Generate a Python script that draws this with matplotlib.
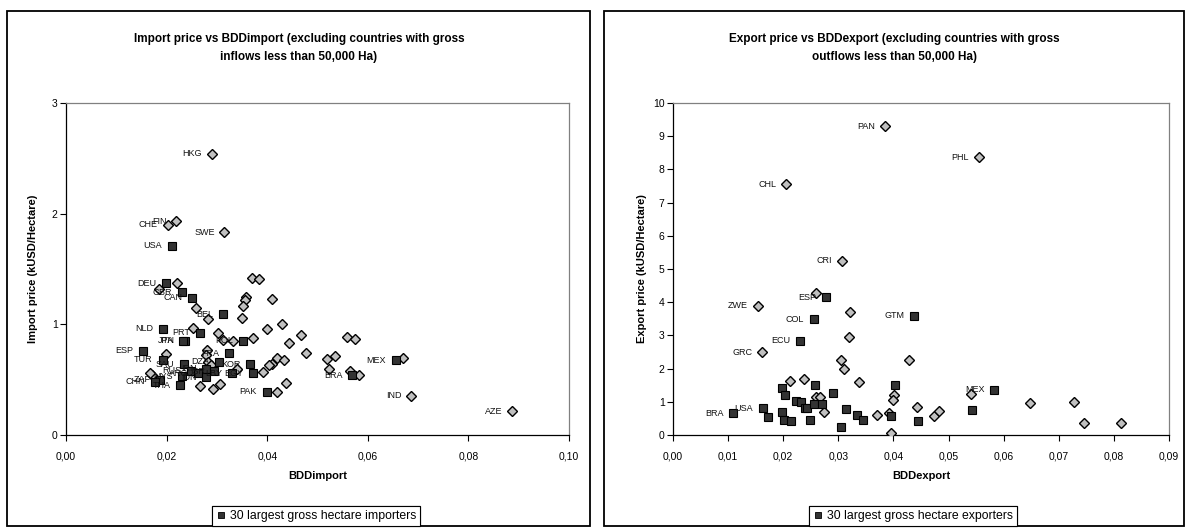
import matplotlib
matplotlib.use('Agg')
import matplotlib.pyplot as plt
from matplotlib.patches import Rectangle
from matplotlib.ticker import FuncFormatter, MultipleLocator
from matplotlib.lines import Line2D

plt.rcParams['font.family'] = ['Liberation Sans', 'DejaVu Sans']

# ---------------- DATA: import chart ----------------
imp_all_x = [0.0290, 0.0219, 0.0202, 0.0315, 0.0221, 0.0185, 0.0369, 0.0384, 0.0358, 0.0356,
             0.0351, 0.0409, 0.0259, 0.0283, 0.0350, 0.0252, 0.0400, 0.0430, 0.0303, 0.0467,
             0.0371, 0.0313, 0.0332, 0.0444, 0.0478, 0.0518, 0.0534, 0.0522, 0.0559, 0.0575,
             0.0565, 0.0583, 0.0669, 0.0686, 0.0887, 0.0198, 0.0280, 0.0278, 0.0283, 0.0288,
             0.0419, 0.0409, 0.0404, 0.0433, 0.0392, 0.0340, 0.0438, 0.0419, 0.0266, 0.0292,
             0.0306, 0.0171, 0.0167]
imp_all_y = [2.54, 1.93, 1.90, 1.83, 1.37, 1.32, 1.42, 1.41, 1.25, 1.22,
             1.17, 1.23, 1.15, 1.05, 1.06, 0.97, 0.96, 1.00, 0.92, 0.90,
             0.88, 0.855, 0.846, 0.83, 0.74, 0.69, 0.71, 0.60, 0.89, 0.87,
             0.58, 0.54, 0.70, 0.355, 0.213, 0.735, 0.77, 0.72, 0.66, 0.63,
             0.70, 0.64, 0.63, 0.68, 0.57, 0.60, 0.47, 0.39, 0.44, 0.42,
             0.46, 0.545, 0.557]
imp_all_lab = ['HKG', 'FIN', 'CHE', 'SWE', '', '', '', '', '', '',
               '', '', '', '', '', '', '', '', '', '',
               '', '', '', '', '', '', '', '', '', '',
               '', '', '', 'IND', 'AZE', '', '', '', '', '',
               '', '', '', '', '', '', '', '', '', '',
               '', '', '']

imp_top_x = [0.0210, 0.0199, 0.0231, 0.0251, 0.0312, 0.0192, 0.0267, 0.0236, 0.0233, 0.0351,
             0.0154, 0.0324, 0.0192, 0.0304, 0.0366, 0.0235, 0.0279, 0.0295, 0.0330, 0.0371,
             0.0279, 0.0231, 0.0187, 0.0177, 0.0227, 0.0399, 0.0656, 0.0569, 0.0248, 0.0262]
imp_top_y = [1.71, 1.37, 1.29, 1.24, 1.09, 0.96, 0.925, 0.85, 0.85, 0.85,
             0.76, 0.74, 0.68, 0.66, 0.64, 0.64, 0.60, 0.575, 0.56, 0.56,
             0.52, 0.53, 0.50, 0.48, 0.45, 0.39, 0.675, 0.54, 0.58, 0.56]
imp_top_lab = ['USA', 'DEU', 'GBR', 'CAN', 'BEL', 'NLD', 'PRT', 'JPN', 'ITA', 'POL',
               'ESP', 'FRA', 'TUR', 'DZA', 'KOR', 'SAU', 'IRN', 'ISR', 'LBY', 'EGY',
               'IDN', 'MYS', 'ZAF', 'CHN', 'THA', 'PAK', 'MEX', 'BRA', 'RUS', 'ARG']

# ---------------- DATA: export chart ----------------
exp_all_x = [0.0385, 0.0555, 0.0205, 0.0307, 0.0260, 0.0154, 0.0322, 0.0319, 0.0162, 0.0304,
             0.0428, 0.0310, 0.0212, 0.0238, 0.0337, 0.0401, 0.0399, 0.0260, 0.0267, 0.0274,
             0.0371, 0.0392, 0.0443, 0.0474, 0.0483, 0.0395, 0.0541, 0.0647, 0.0727, 0.0745,
             0.0812]
exp_all_y = [9.30, 8.37, 7.55, 5.25, 4.28, 3.89, 3.70, 2.96, 2.49, 2.27,
             2.27, 1.99, 1.63, 1.70, 1.60, 1.21, 1.06, 1.14, 1.14, 0.69,
             0.60, 0.66, 0.85, 0.57, 0.71, 0.07, 1.22, 0.97, 1.00, 0.36,
             0.36]
exp_all_lab = ['PAN', 'PHL', 'CHL', 'CRI', '', 'ZWE', '', '', 'GRC', '',
               '', '', '', '', '', '', '', '', '', '',
               '', '', '', '', '', '', '', '', '', '',
               '']

exp_top_x = [0.0277, 0.0256, 0.0437, 0.0230, 0.0258, 0.0402, 0.0198, 0.0204, 0.0291, 0.0223,
             0.0232, 0.0240, 0.0244, 0.0256, 0.0271, 0.0163, 0.0109, 0.0172, 0.0198, 0.0202,
             0.0215, 0.0249, 0.0314, 0.0333, 0.0344, 0.0305, 0.0396, 0.0445, 0.0583, 0.0543]
exp_top_y = [4.15, 3.48, 3.59, 2.84, 1.52, 1.52, 1.41, 1.20, 1.27, 1.02,
             0.98, 0.82, 0.80, 0.92, 0.92, 0.80, 0.66, 0.55, 0.69, 0.44,
             0.41, 0.45, 0.77, 0.59, 0.45, 0.23, 0.58, 0.41, 1.37, 0.74]
exp_top_lab = ['ESP', 'COL', 'GTM', 'ECU', '', '', '', '', '', '',
               '', '', '', '', '', 'USA', 'BRA', '', '', '',
               '', '', '', '', '', '', '', '', 'MEX', '']

# ---------------- FIGURE ----------------
W, H = 1190, 532
fig = plt.figure(figsize=(W / 100, H / 100), dpi=100)


def fx(px):
    return px / W


def fy(py):
    return 1 - py / H


# outer chart boxes
for x0, x1 in [(7, 590), (604, 1184)]:
    fig.patches.append(Rectangle((fx(x0), fy(526)), fx(x1) - fx(x0), fy(11) - fy(526),
                                 transform=fig.transFigure, fill=False,
                                 edgecolor='black', lw=1.3))

comma2 = FuncFormatter(lambda v, p: ('%.2f' % v).replace('.', ','))

DIA = dict(marker='D', ls='none', ms=5.4, mfc='#c0c0c0', mec='black', mew=1.0)
SQ = dict(marker='s', ls='none', ms=5.6, mfc='#333333', mec='black', mew=0.8)


def make_panel(px0, px1, xs_all, ys_all, lab_all, xs_top, ys_top, lab_top,
               xmax, xstep, ymax, xlabel, ylabel, ylab_x):
    ax = fig.add_axes([fx(px0), fy(435), fx(px1) - fx(px0), fy(103) - fy(435)])
    ax.plot(xs_all, ys_all, zorder=3, **DIA)
    ax.plot(xs_top, ys_top, zorder=4, **SQ)
    for x, y, t in list(zip(xs_all, ys_all, lab_all)) + list(zip(xs_top, ys_top, lab_top)):
        if t:
            ax.annotate(t, (x, y), xytext=(-7, 0), textcoords='offset points',
                        ha='right', va='center', fontsize=6.5, color='#111111', zorder=5)
    ax.set_xlim(0, xmax)
    ax.set_ylim(0, ymax)
    ax.xaxis.set_major_locator(MultipleLocator(xstep))
    ax.yaxis.set_major_locator(MultipleLocator(1))
    ax.xaxis.set_major_formatter(comma2)
    ax.tick_params(axis='both', direction='out', length=4, width=0.8,
                   labelsize=7.5, pad=8, color='black')
    ax.tick_params(axis='y', pad=2)
    for s in ['left', 'bottom']:
        ax.spines[s].set_color('#000000')
        ax.spines[s].set_linewidth(0.9)
    for s in ['top', 'right']:
        ax.spines[s].set_color('#808080')
        ax.spines[s].set_linewidth(0.9)
    cx = (px0 + px1) / 2
    fig.text(fx(cx), fy(476), xlabel, ha='center', va='center', fontsize=8, fontweight='bold')
    fig.text(fx(ylab_x), fy(269), ylabel, ha='center', va='center', rotation=90,
             fontsize=8, fontweight='bold')
    return ax


make_panel(66, 569, imp_all_x, imp_all_y, imp_all_lab, imp_top_x, imp_top_y, imp_top_lab,
           0.10, 0.02, 3, 'BDDimport', 'Import price (kUSD/Hectare)', 33)
make_panel(673, 1169, exp_all_x, exp_all_y, exp_all_lab, exp_top_x, exp_top_y, exp_top_lab,
           0.09, 0.01, 10, 'BDDexport', 'Export price (kUSD/Hectare)', 642)

fig.text(fx(299), fy(48),
         'Import price vs BDDimport (excluding countries with gross\ninflows less than 50,000 Ha)',
         ha='center', va='center', fontsize=8.5, fontweight='bold', linespacing=1.65)
fig.text(fx(894), fy(48),
         'Export price vs BDDexport (excluding countries with gross\noutflows less than 50,000 Ha)',
         ha='center', va='center', fontsize=8.5, fontweight='bold', linespacing=1.65)

h = Line2D([], [], marker='s', ls='none', ms=5, mfc='#333333', mec='black', mew=0.6)
for cx, txt in [(316, '30 largest gross hectare importers'),
                (913, '30 largest gross hectare exporters')]:
    leg = fig.legend([h], [txt], loc='center', bbox_to_anchor=(fx(cx), fy(516)),
                     fontsize=8.8, frameon=True, fancybox=False, framealpha=1,
                     edgecolor='black', borderpad=0.35, handletextpad=0.25,
                     handlelength=0.9, borderaxespad=0)
    leg.get_frame().set_linewidth(0.8)
    fig.add_artist(leg)

fig.savefig('out.png', dpi=100)
